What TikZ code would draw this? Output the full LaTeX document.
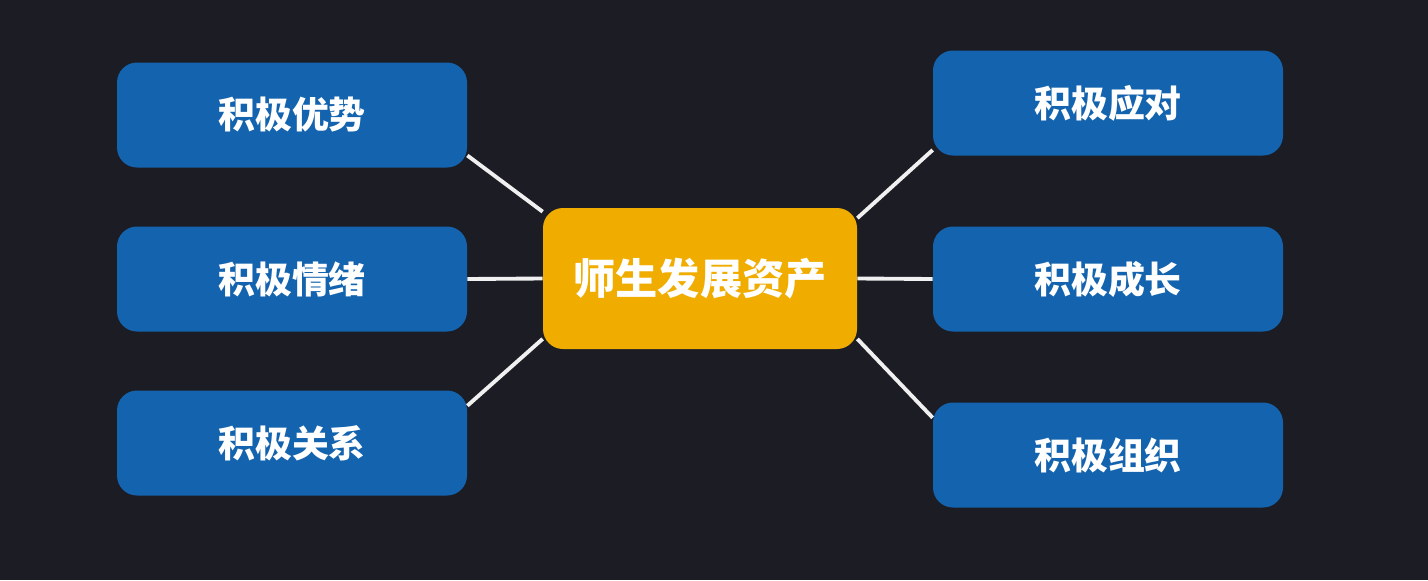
\documentclass[tikz,border=0pt]{standalone}
\usepackage{fontspec}
\newfontfamily\cjk{Noto Sans CJK SC}
\definecolor{bgdark}{HTML}{1C1C24}
\definecolor{boxblue}{HTML}{1363AE}
\definecolor{boxgold}{HTML}{F0AD00}
\definecolor{linkwhite}{HTML}{F0F0F0}
\tikzset{
  item/.style={fill=boxblue, rounded corners=0.4cm, minimum width=7cm, minimum height=2.1cm,
    inner sep=0pt, text=white, font=\cjk\bfseries\fontsize{21}{25}\selectfont},
  core/.style={fill=boxgold, rounded corners=0.4cm, minimum width=6.28cm, minimum height=2.82cm,
    inner sep=0pt, text=white, font=\cjk\bfseries\fontsize{24}{28}\selectfont},
  link/.style={draw=linkwhite, line width=2.2pt}
}
\begin{document}
\begin{tikzpicture}
    % background
    \fill[bgdark] (0,0) rectangle (28.56,-11.6);
    \useasboundingbox (0,0) rectangle (28.56,-11.6);
    % links (behind the boxes)
    \coordinate (c) at (14.00,-5.57);
    % center node
    \node[core] (ctr) at (c) {师生发展资产};
    % left column
    \node[item] (lt) at (5.84,-2.30) {积极优势};
    \node[item] (lm) at (5.84,-5.58) {积极情绪};
    \node[item] (lb) at (5.84,-8.86) {积极关系};
    % right column
    \node[item] (rt) at (22.16,-2.06) {积极应对};
    \node[item] (rm) at (22.16,-5.58) {积极成长};
    \node[item] (rb) at (22.16,-9.10) {积极组织};
    % links
    \draw[link] (lt.-13) -- (ctr.157);
    \draw[link] (lm.east) -- (ctr.west);
    \draw[link] (lb.12) -- (ctr.-159);
    \draw[link] (rt.-165) -- (ctr.21);
    \draw[link] (rm.west) -- (ctr.east);
    \draw[link] (rb.168) -- (ctr.-21);
  \end{tikzpicture}
\end{document}
